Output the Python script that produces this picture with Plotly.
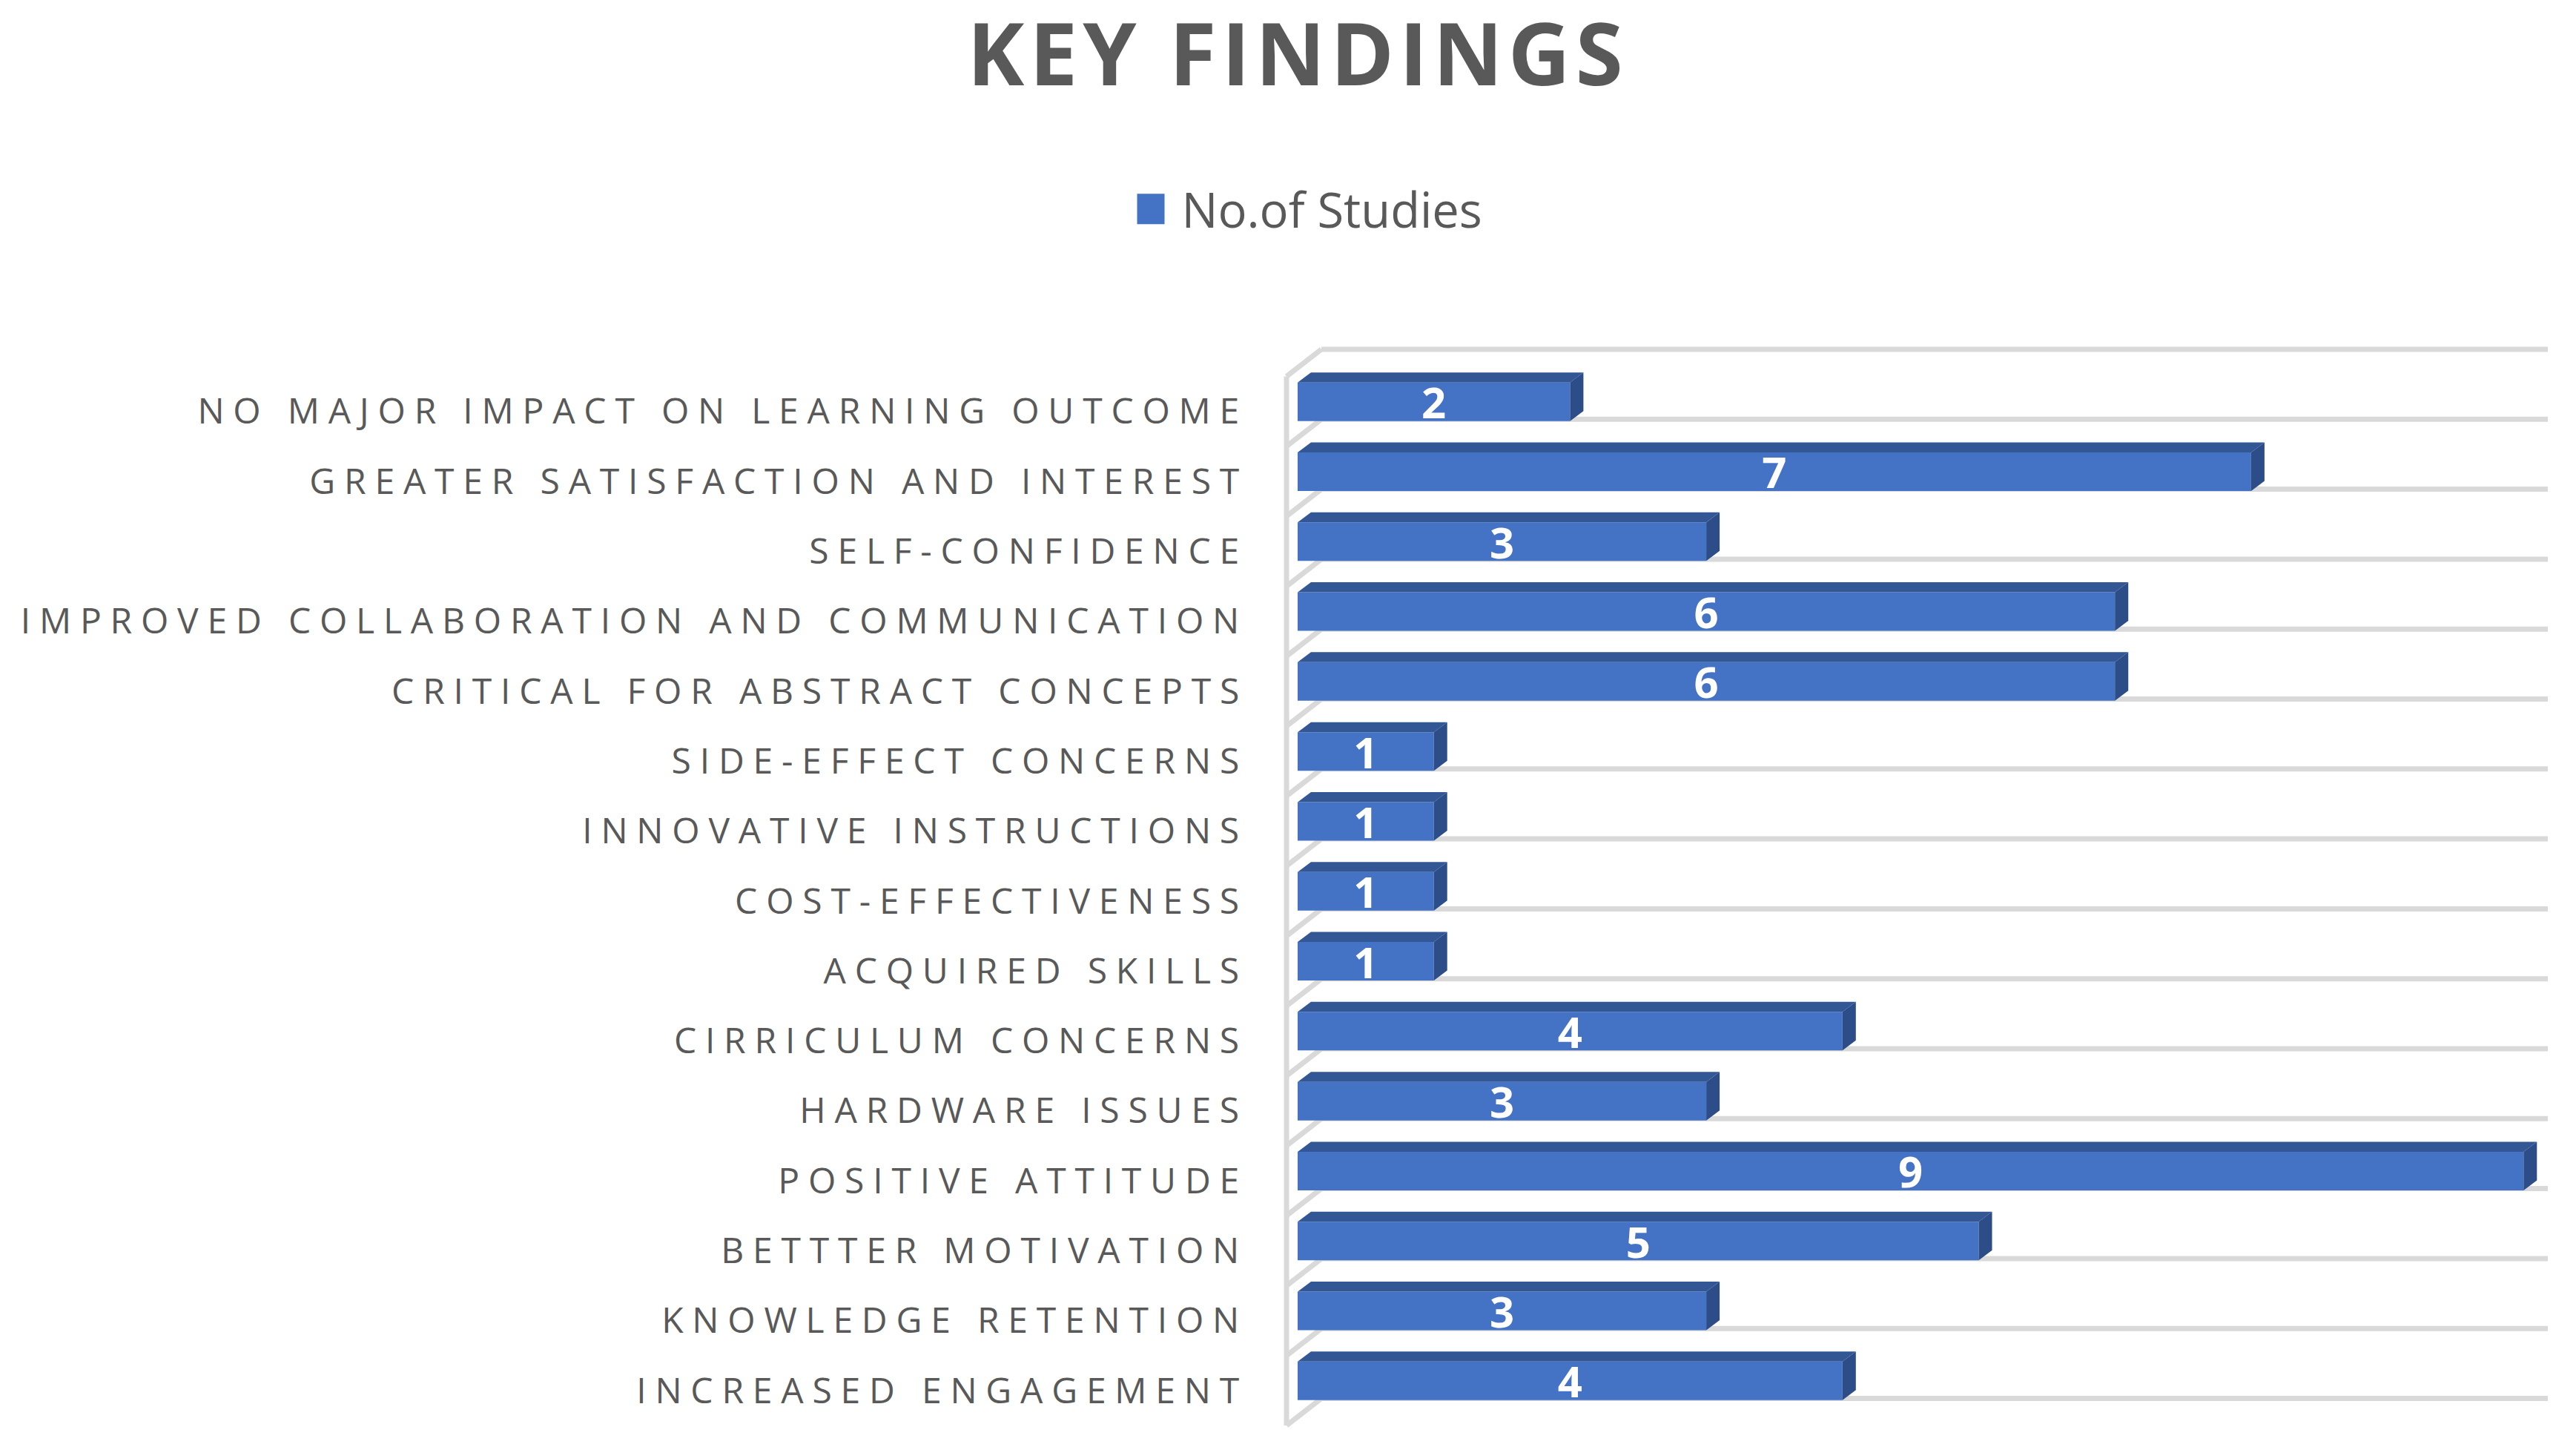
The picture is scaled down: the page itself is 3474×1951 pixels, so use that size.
import plotly.graph_objects as go

labels = [
    "INCREASED ENGAGEMENT", "KNOWLEDGE RETENTION", "BETTTER MOTIVATION", "POSITIVE ATTITUDE",
    "HARDWARE ISSUES", "CIRRICULUM CONCERNS", "ACQUIRED SKILLS", "COST-EFFECTIVENESS",
    "INNOVATIVE INSTRUCTIONS", "SIDE-EFFECT CONCERNS", "CRITICAL FOR ABSTRACT CONCEPTS",
    "IMPROVED COLLABORATION AND COMMUNICATION", "SELF-CONFIDENCE",
    "GREATER SATISFACTION AND INTEREST", "NO MAJOR IMPACT ON LEARNING OUTCOME",
]
studies = [4, 3, 5, 9, 3, 4, 1, 1, 1, 1, 6, 6, 3, 7, 2]
positions = list(range(len(labels)))

# pixel scale of the axes
PX_X = 183.7
PX_Y = 94.3
W, H = 3474, 1951
L, R, T, B = 1725, 3445, 460, 1930

x_min = (L - 1750) / PX_X
x_max = (R - 1750) / PX_X
y_min = -0.5 - (B - 1922) / PX_Y
y_max = -0.5 + (1922 - T) / PX_Y

bar_h = 52 / PX_Y
bar_lift = 13 / PX_Y
dx = 18 / PX_X
dy = 13.5 / PX_Y

wall_x = (1735 - 1750) / PX_X
back_x = (1782 - 1750) / PX_X
grid_end = (3436 - 1750) / PX_X
wall_dy = 36.5 / PX_Y

top_x, top_y, side_x, side_y = [], [], [], []
for p, v in zip(positions, studies):
    y0 = p + bar_lift - bar_h / 2
    y1 = y0 + bar_h
    top_x += [0, dx, v + dx, v, 0, None]
    top_y += [y1, y1 + dy, y1 + dy, y1, y1, None]
    side_x += [v, v + dx, v + dx, v, v, None]
    side_y += [y1, y1 + dy, y0 + dy, y0, y1, None]

grid_line = dict(color="#d9d9d9", width=7)
shapes = [dict(type="line", xref="x", yref="y", layer="below", line=grid_line,
               x0=wall_x, x1=wall_x, y0=-0.5, y1=len(labels) - 0.5)]
for n in range(len(labels) + 1):
    yb = n - 0.5
    shapes.append(dict(type="line", xref="x", yref="y", layer="below", line=grid_line,
                       x0=wall_x, x1=back_x, y0=yb, y1=yb + wall_dy))
    shapes.append(dict(type="line", xref="x", yref="y", layer="below", line=grid_line,
                       x0=back_x, x1=grid_end, y0=yb + wall_dy, y1=yb + wall_dy))

fig = go.Figure()

fig.add_trace(go.Bar(
    name="No.of Studies",
    orientation="h",
    x=studies,
    y=positions,
    width=bar_h,
    offset=bar_lift - bar_h / 2,
    marker=dict(color="#4472c4", line=dict(width=0)),
    text=studies,
    textposition="inside",
    insidetextanchor="middle",
    textangle=0,
    constraintext="none",
    textfont=dict(family="Open Sans", size=58, color="white", weight="bold"),
))
fig.add_trace(go.Scatter(x=top_x, y=top_y, mode="lines", fill="toself", fillcolor="#335795",
                         line=dict(width=0), showlegend=False, hoverinfo="skip"))
fig.add_trace(go.Scatter(x=side_x, y=side_y, mode="lines", fill="toself", fillcolor="#2c4d88",
                         line=dict(width=0), showlegend=False, hoverinfo="skip"))

fig.update_layout(
    width=W,
    height=H,
    paper_bgcolor="white",
    plot_bgcolor="white",
    margin=dict(l=L, r=W - R, t=T, b=H - B, pad=0),
    shapes=shapes,
    title=dict(
        text="KEY FINDINGS",
        font=dict(family="Open Sans", size=116, color="#595959", weight="bold"),
        xref="container", yref="container",
        x=1750 / W, xanchor="center",
        y=1 - 74 / H, yanchor="middle",
    ),
    legend=dict(
        orientation="h",
        xref="container", yref="container",
        x=1769 / W, xanchor="center",
        y=1 - 282 / H, yanchor="middle",
        font=dict(family="Open Sans", size=65, color="#595959"),
        itemwidth=50,
    ),
    xaxis=dict(range=[x_min, x_max], visible=False, fixedrange=True),
    yaxis=dict(
        range=[y_min, y_max],
        tickmode="array",
        tickvals=positions,
        ticktext=labels,
        ticks="",
        showgrid=False,
        zeroline=False,
        showline=False,
        ticklabelstandoff=41,
        automargin=False,
        tickfont=dict(family="Open Sans", size=48, color="#595959"),
    ),
)

# plotly has no letter spacing attribute, so it is set on the drawn text
post = """
document.body.style.margin = '0';
document.querySelectorAll('.ytick text').forEach(t => { t.style.letterSpacing = '11.8px'; });
document.querySelectorAll('.gtitle').forEach(t => { t.style.letterSpacing = '7px'; });
document.querySelectorAll('.legendbar, .legendundefined').forEach(p => { p.setAttribute('transform', 'translate(-5,0) scale(7,3.4)'); });
"""
fig.write_html("out.html", post_script=post, config=dict(displayModeBar=False))
